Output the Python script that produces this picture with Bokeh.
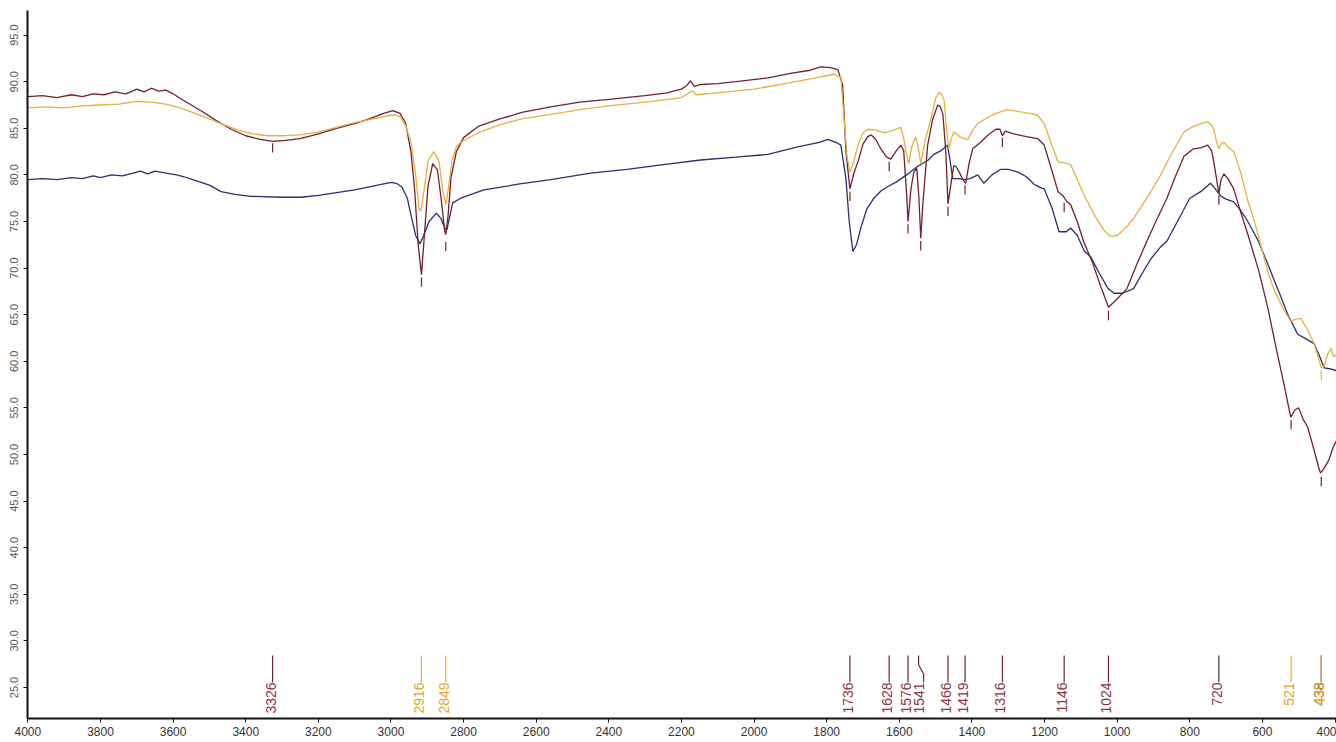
from math import pi
from bokeh.plotting import figure
from bokeh.models import FixedTicker, NumeralTickFormatter, ColumnDataSource, Range1d
from bokeh.core.properties import value
from bokeh.embed import file_html
from bokeh.resources import INLINE

# ---------------- data ----------------
maroon_wn = [4000, 3960, 3920, 3880, 3850, 3820, 3790, 3760, 3730, 3700, 3680, 3660, 3640, 3620, 3600,
             3580, 3550, 3520, 3480, 3440, 3400, 3360, 3326, 3290, 3250, 3200, 3150, 3100, 3060, 3020,
             2995, 2975, 2960, 2945, 2935, 2925, 2916, 2908, 2898, 2885, 2872, 2862, 2852, 2849, 2843,
             2835, 2820, 2800, 2760, 2700, 2640, 2560, 2480, 2400, 2300, 2240, 2200, 2185, 2175, 2165,
             2147, 2100, 2050, 1962, 1900, 1850, 1816, 1790, 1769, 1756, 1747, 1736, 1725, 1714, 1700,
             1687, 1677, 1665, 1651, 1635, 1623, 1610, 1596, 1588, 1580, 1576, 1568, 1560, 1552, 1546,
             1541, 1535, 1522, 1508, 1494, 1487, 1480, 1472, 1466, 1458, 1450, 1444, 1435, 1425, 1417,
             1408, 1398, 1376, 1355, 1334, 1323, 1316, 1308, 1285, 1250, 1219, 1201, 1180, 1163, 1150,
             1140, 1128, 1110, 1092, 1070, 1045, 1024, 1005, 973, 945, 918, 890, 863, 840, 816,
             790, 770, 751, 740, 734, 726, 720, 714, 706, 695, 679, 660, 640, 610, 585,
             560, 541, 530, 522, 510, 500, 488, 475, 458, 445, 440, 432, 417, 405, 396]
maroon_T = [88.4, 88.5, 88.3, 88.6, 88.4, 88.7, 88.6, 88.9, 88.7, 89.2, 88.9, 89.3, 89.0, 89.1, 88.7,
            88.2, 87.5, 86.8, 85.8, 84.9, 84.2, 83.8, 83.6, 83.7, 83.9, 84.4, 85.0, 85.5, 86.0, 86.6,
            86.9, 86.6, 85.6, 82.5, 78.5, 72.5, 69.3, 73.5, 78.8, 81.2, 80.5, 77.5, 74.0, 73.6, 75.5,
            79.6, 82.5, 84.0, 85.2, 86.0, 86.7, 87.3, 87.8, 88.1, 88.5, 88.8, 89.2, 89.6, 90.1, 89.5,
            89.7, 89.8, 90.0, 90.4, 90.9, 91.2, 91.6, 91.5, 91.3, 89.6, 82.5, 78.5, 80.2, 81.4, 83.3,
            84.1, 84.3, 83.8, 82.8, 81.9, 81.7, 82.5, 83.2, 82.6, 78.0, 75.0, 78.5, 80.3, 80.7, 77.5,
            73.2, 77.0, 83.2, 86.0, 87.5, 87.3, 86.5, 82.5, 76.9, 79.0, 81.0, 80.9, 80.3, 79.5, 79.1,
            81.2, 82.8, 83.5, 84.3, 84.9, 84.9, 84.2, 84.7, 84.4, 84.1, 83.9, 83.2, 80.5, 78.2, 77.8,
            77.2, 76.8, 75.0, 72.8, 70.8, 68.0, 65.8, 66.5, 67.8, 70.5, 72.9, 75.3, 77.5, 79.8, 82.0,
            82.8, 82.9, 83.2, 82.6, 81.4, 79.5, 78.0, 79.5, 80.1, 79.6, 78.5, 76.0, 73.6, 69.7, 65.7,
            61.0, 57.6, 55.5, 54.0, 54.8, 55.0, 53.8, 52.9, 50.5, 48.6, 48.0, 48.4, 49.4, 50.8, 51.5]

gold_wn = [4000, 3950, 3900, 3850, 3800, 3750, 3700, 3660, 3620, 3580, 3540, 3500, 3469, 3420, 3380,
           3339, 3300, 3250, 3200, 3150, 3100, 3050, 3000, 2985, 2973, 2960, 2945, 2932, 2923, 2918,
           2910, 2898, 2882, 2868, 2858, 2849, 2842, 2832, 2820, 2808, 2760, 2700, 2640, 2560, 2480,
           2400, 2300, 2200, 2180, 2170, 2160, 2100, 2000, 1900, 1820, 1780, 1761, 1752, 1744, 1736,
           1725, 1714, 1700, 1687, 1665, 1640, 1615, 1596, 1588, 1582, 1574, 1566, 1555, 1548, 1541,
           1530, 1513, 1500, 1491, 1483, 1477, 1470, 1464, 1456, 1450, 1430, 1411, 1398, 1384, 1360,
           1340, 1320, 1301, 1270, 1240, 1219, 1201, 1180, 1163, 1145, 1128, 1110, 1092, 1060, 1035,
           1018, 1000, 980, 955, 930, 907, 880, 850, 816, 790, 770, 751, 740, 734, 726,
           720, 714, 706, 695, 679, 660, 640, 624, 600, 585, 569, 545, 522, 510, 494,
           475, 458, 445, 438, 430, 420, 411, 404, 396]
gold_T = [87.2, 87.3, 87.2, 87.4, 87.5, 87.6, 87.9, 87.8, 87.6, 87.2, 86.6, 86.0, 85.5, 84.8, 84.4,
          84.2, 84.2, 84.3, 84.6, 85.1, 85.6, 86.0, 86.4, 86.4, 86.2, 85.3, 83.5, 80.0, 76.4, 76.1,
          78.0, 81.5, 82.5, 81.5, 78.5, 76.8, 78.5, 81.5, 83.0, 83.5, 84.5, 85.4, 86.0, 86.5, 87.0,
          87.4, 87.8, 88.3, 88.8, 89.0, 88.6, 88.8, 89.2, 89.9, 90.5, 90.8, 90.5, 86.0, 82.0, 80.3,
          81.5, 83.2, 84.5, 84.9, 84.8, 84.5, 84.8, 85.1, 84.0, 82.5, 81.2, 83.0, 84.1, 83.0, 81.2,
          83.5, 86.0, 88.2, 88.9, 88.6, 88.1, 85.0, 82.8, 84.0, 84.6, 84.0, 83.8, 84.8, 85.5, 86.1,
          86.5, 86.8, 87.0, 86.8, 86.6, 86.4, 85.5, 83.2, 81.4, 81.3, 81.1, 79.5, 77.9, 75.5, 74.0,
          73.4, 73.5, 74.2, 75.3, 76.8, 78.2, 80.0, 82.3, 84.6, 85.2, 85.5, 85.7, 85.3, 84.9, 83.5,
          82.8, 83.3, 83.5, 83.0, 82.5, 80.3, 77.2, 75.3, 71.8, 69.6, 67.8, 65.8, 64.3, 64.5, 64.6,
          63.3, 61.9, 60.3, 59.3, 59.5, 60.8, 61.4, 60.5, 60.7]

navy_wn = [4000, 3960, 3920, 3880, 3850, 3820, 3800, 3770, 3740, 3710, 3690, 3670, 3650, 3620, 3590,
           3570, 3540, 3500, 3468, 3430, 3386, 3300, 3248, 3200, 3150, 3100, 3050, 3000, 2985, 2970,
           2955, 2945, 2932, 2920, 2910, 2895, 2875, 2862, 2852, 2846, 2840, 2830, 2808, 2744, 2650,
           2560, 2450, 2350, 2250, 2147, 2050, 1962, 1880, 1820, 1797, 1770, 1761, 1747, 1738, 1728,
           1718, 1706, 1690, 1670, 1650, 1634, 1610, 1580, 1550, 1520, 1505, 1485, 1467, 1460, 1453,
           1435, 1420, 1405, 1384, 1367, 1345, 1320, 1300, 1273, 1250, 1229, 1210, 1201, 1180, 1160,
           1140, 1128, 1110, 1090, 1073, 1050, 1025, 1009, 985, 955, 930, 907, 880, 863, 830,
           800, 770, 743, 730, 714, 700, 679, 660, 640, 610, 585, 555, 530, 503, 480,
           458, 440, 430, 415, 396]
navy_T = [79.5, 79.6, 79.5, 79.7, 79.6, 79.9, 79.7, 80.0, 79.9, 80.2, 80.4, 80.1, 80.4, 80.2, 80.0,
          79.8, 79.4, 78.9, 78.2, 77.9, 77.7, 77.6, 77.6, 77.8, 78.1, 78.4, 78.8, 79.2, 79.1, 78.7,
          77.5, 75.7, 73.5, 72.6, 73.5, 75.0, 75.9, 75.3, 74.3, 74.1, 75.2, 77.0, 77.5, 78.4, 79.0,
          79.5, 80.2, 80.6, 81.1, 81.6, 81.9, 82.2, 83.0, 83.5, 83.8, 83.4, 83.2, 79.6, 75.0, 71.8,
          72.5, 74.3, 76.3, 77.5, 78.3, 78.7, 79.2, 80.0, 80.9, 81.6, 82.2, 82.6, 83.2, 81.5, 79.6,
          79.6, 79.5, 79.6, 80.0, 79.1, 80.0, 80.6, 80.6, 80.3, 79.8, 79.0, 78.6, 78.5, 76.5, 73.9,
          73.9, 74.3, 73.5, 71.8, 71.2, 69.5, 67.8, 67.3, 67.3, 67.8, 69.5, 71.0, 72.3, 72.9, 75.3,
          77.5, 78.2, 79.1, 78.5, 77.7, 77.4, 77.1, 76.2, 75.0, 72.8, 70.4, 67.5, 65.0, 62.9, 62.4,
          61.9, 60.3, 59.3, 59.2, 59.0]

# peak annotations along the bottom
peak_wn = [3326, 2916, 2849, 1736, 1628, 1576, 1541, 1466, 1419, 1316, 1146, 1024, 720, 521, 438, 438]
peak_text = ["3326", "2916", "2849", "1736", "1628", "1576", "1541", "1466", "1419", "1316",
             "1146", "1024", "720", "521", "438", "439"]
peak_series = ["m", "g", "g", "m", "m", "m", "m", "m", "m", "m", "m", "m", "m", "g", "m", "g"]

# small peak marks under the curves
mark_wn = [3326, 2916, 2849, 1736, 1628, 1576, 1541, 1466, 1419, 1316, 1146, 1024, 720, 521, 438, 438]
mark_T = [83.4, 69.0, 72.8, 78.2, 81.4, 74.7, 72.9, 76.6, 78.9, 84.0, 77.0, 65.4, 77.8, 53.7, 47.6, 59.0]
mark_series = ["m", "m", "m", "m", "m", "m", "m", "m", "m", "m", "m", "m", "m", "m", "m", "g"]

x_ticks = [4000, 3800, 3600, 3400, 3200, 3000, 2800, 2600, 2400, 2200, 2000,
           1800, 1600, 1400, 1200, 1000, 800, 600, 400]
y_ticks = [25, 30, 35, 40, 45, 50, 55, 60, 65, 70, 75, 80, 85, 90, 95]

# ---------------- styles ----------------
MAROON = "#72202f"
GOLD = "#e7b13f"
NAVY = "#2b2e70"
MAROON_TXT = "#8e3445"
GOLD_TXT = "#e5a52e"
colors_line = {"m": MAROON, "g": GOLD}
colors_txt = {"m": MAROON_TXT, "g": GOLD_TXT}

LABEL_TOP = 28.43
LABEL_BOTTOM = 25.55
MARK_LEN = 1.0
FONT = "Liberation Sans"

p = figure(width=1336, height=742, output_backend="svg", toolbar_location=None,
           x_range=Range1d(4001, 396), y_range=Range1d(21.67, 97.64),
           min_border_left=27, min_border_right=0, min_border_top=10, min_border_bottom=24)
p.outline_line_color = None
p.xgrid.grid_line_color = None
p.ygrid.grid_line_color = None
p.background_fill_color = "white"
p.border_fill_color = "white"

# curves
p.line(navy_wn, navy_T, line_color=NAVY, line_width=1.3)
p.line(maroon_wn, maroon_T, line_color=MAROON, line_width=1.3)
p.line(gold_wn, gold_T, line_color=GOLD, line_width=1.3)

# peak marks under curves
ms = ColumnDataSource(dict(x=mark_wn, y0=mark_T, y1=[t - MARK_LEN for t in mark_T],
                           c=[colors_line[s] for s in mark_series]))
p.segment(x0="x", y0="y0", x1="x", y1="y1", line_color="c", line_width=1.2, source=ms)

# label stems (1541 has a small dog-leg)
xs, ys, cs = [], [], []
for w, s in zip(peak_wn, peak_series):
    if w == 1541:
        xs.append([w + 6, w + 6, w - 8, w - 8])
        ys.append([LABEL_TOP, LABEL_TOP - 1.0, LABEL_BOTTOM + 0.9, LABEL_BOTTOM])
    else:
        xs.append([w, w])
        ys.append([LABEL_TOP, LABEL_BOTTOM])
    cs.append(colors_line[s] if s == "g" else "#6a2331")
p.multi_line(xs, ys, line_color=cs, line_width=1.2)

ls = ColumnDataSource(dict(x=peak_wn, y=[LABEL_BOTTOM] * len(peak_wn), t=peak_text,
                           c=[colors_txt[s] for s in peak_series]))
p.text(x="x", y="y", text="t", source=ls, angle=pi / 2, text_align="right",
       text_baseline="middle", text_color="c", text_font=value(FONT),
       text_font_size="14px", x_offset=-2)

# axes
p.xaxis.ticker = FixedTicker(ticks=x_ticks)
p.yaxis.ticker = FixedTicker(ticks=y_ticks)
p.yaxis.formatter = NumeralTickFormatter(format="0.0")
for ax in (p.xaxis[0], p.yaxis[0]):
    ax.axis_line_color = "#111111"
    ax.axis_line_width = 2
    ax.major_tick_line_color = "#111111"
    ax.major_tick_line_width = 1
    ax.major_tick_in = 0
    ax.major_tick_out = 4
    ax.minor_tick_line_color = None
    ax.major_label_text_font = FONT
    ax.major_label_standoff = 5
p.xaxis.major_label_text_font_size = "12px"
p.xaxis.major_label_text_color = "#333333"
p.xaxis.major_label_standoff = 4
p.yaxis.major_label_text_font_size = "11px"
p.yaxis.major_label_text_color = "#555555"
p.yaxis.major_label_orientation = "parallel"

open("out.html", "w").write(file_html(p, INLINE))
